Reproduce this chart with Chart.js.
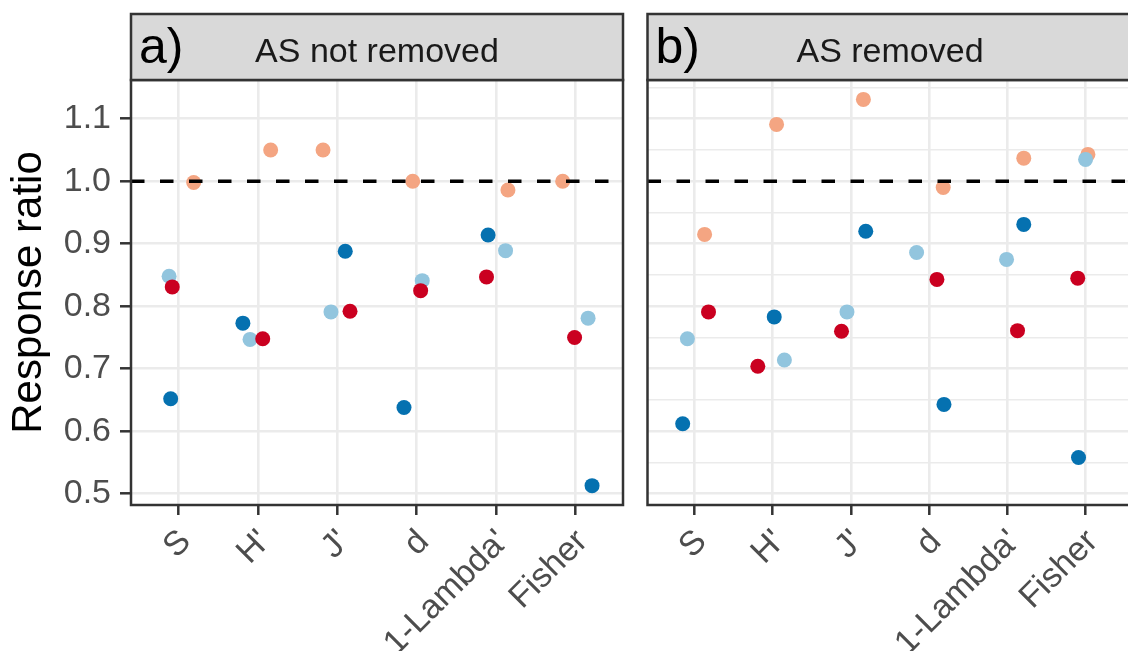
<!DOCTYPE html>
<html>
<head>
<meta charset="utf-8">
<script src="https://cdn.jsdelivr.net/npm/chart.js@4"></script>
<style>
  body { margin: 0; width: 1128px; height: 651px; overflow: hidden; background: #fff; position: relative; }
  .panel { position: absolute; top: 0; height: 651px; }
  #panelA { left: 0; width: 640px; }
  #panelB { left: 640px; width: 500px; }
</style>
</head>
<body>
<div class="panel" id="panelA"><canvas id="chartA"></canvas></div>
<div class="panel" id="panelB"><canvas id="chartB"></canvas></div>
<script>
// categories on the x axis
const categories = ['S', "H'", "J'", 'd', "1-Lambda'", 'Fisher'];
// y gridlines (major every 0.1, minor in between)
const yGridValues = [0.5, 0.55, 0.6, 0.65, 0.7, 0.75, 0.8, 0.85, 0.9, 0.95, 1.0, 1.05, 1.1, 1.15];
const refValue = 1.0;

// a) AS not removed  (values + horizontal jitter read from the figure)
const aRed = [0.831, 0.748, 0.792, 0.825, 0.847, 0.750];
const aRedJitter = [-0.08, 0.06, 0.16, 0.05, -0.12, -0.01];
const aSalmon = [0.998, 1.050, 1.050, 1.000, 0.986, 1.000];
const aSalmonJitter = [0.19, 0.16, -0.18, -0.05, 0.15, -0.16];
const aLightBlue = [0.848, 0.747, 0.791, 0.841, 0.889, 0.781];
const aLightBlueJitter = [-0.12, -0.10, -0.08, 0.07, 0.12, 0.16];
const aDarkBlue = [0.652, 0.773, 0.888, 0.638, 0.914, 0.513];
const aDarkBlueJitter = [-0.10, -0.19, 0.10, -0.16, -0.10, 0.21];

// b) AS removed
const bRed = [0.791, 0.704, 0.760, 0.843, 0.761, 0.845];
const bRedJitter = [0.18, -0.19, -0.12, 0.10, 0.13, -0.10];
const bSalmon = [0.915, 1.091, 1.131, 0.990, 1.037, 1.043];
const bSalmonJitter = [0.13, 0.05, 0.16, 0.18, 0.21, 0.03];
const bLightBlue = [0.748, 0.714, 0.791, 0.886, 0.875, 1.035];
const bLightBlueJitter = [-0.09, 0.15, -0.05, -0.16, -0.01, 0.0];
const bDarkBlue = [0.612, 0.783, 0.920, 0.643, 0.931, 0.558];
const bDarkBlueJitter = [-0.15, 0.02, 0.19, 0.19, 0.21, -0.09];

const colors = { red: '#ca0020', salmon: '#f4a582', lightBlue: '#92c5de', darkBlue: '#0571b0' };

Chart.defaults.font.family = "'Liberation Sans', Arial, sans-serif";

function toPoints(values, jitter) {
    return values.map((v, i) => ({ x: i + 1 + jitter[i], y: v }));
}

function isMajor(v) {
    return Math.abs(v * 10 - Math.round(v * 10)) < 1e-6;
}

// first dataset is drawn on top
function makeDatasets(red, redJ, salmon, salmonJ, lightBlue, lightBlueJ, darkBlue, darkBlueJ) {
    const base = { pointRadius: 7.5, pointHoverRadius: 7.5, borderWidth: 0 };
    return [
        { label: 'darkBlue', data: toPoints(darkBlue, darkBlueJ), backgroundColor: colors.darkBlue, ...base },
        { label: 'red', data: toPoints(red, redJ), backgroundColor: colors.red, ...base },
        { label: 'lightBlue', data: toPoints(lightBlue, lightBlueJ), backgroundColor: colors.lightBlue, ...base },
        { label: 'salmon', data: toPoints(salmon, salmonJ), backgroundColor: colors.salmon, ...base }
    ];
}

// dashed line at 1.0, panel border and the grey strip on top
const facetPlugin = {
    id: 'facet',
    afterDatasetsDraw(chart) {
        const { ctx, chartArea: a, scales: { y } } = chart;
        const py = y.getPixelForValue(refValue);
        ctx.save();
        ctx.beginPath();
        ctx.rect(a.left, a.top, a.right - a.left, a.bottom - a.top);
        ctx.clip();
        ctx.setLineDash([13.5, 15.5]);
        ctx.lineWidth = 3.5;
        ctx.strokeStyle = '#000';
        ctx.beginPath();
        ctx.moveTo(a.left, py);
        ctx.lineTo(a.right, py);
        ctx.stroke();
        ctx.restore();
    },
    afterDraw(chart, args, opts) {
        const { ctx, chartArea: a } = chart;
        ctx.save();
        ctx.lineWidth = 2.5;
        ctx.strokeStyle = '#333333';
        ctx.strokeRect(a.left, a.top, a.right - a.left, a.bottom - a.top);
        // strip
        const top = 14;
        ctx.fillStyle = '#d9d9d9';
        ctx.fillRect(a.left, top, a.right - a.left, a.top - top);
        ctx.strokeRect(a.left, top, a.right - a.left, a.top - top);
        ctx.fillStyle = '#1a1a1a';
        ctx.textBaseline = 'alphabetic';
        ctx.textAlign = 'center';
        ctx.font = "34px 'Liberation Sans', Arial, sans-serif";
        ctx.fillText(opts.title, (a.left + a.right) / 2, 62);
        ctx.fillStyle = '#000';
        ctx.textAlign = 'left';
        ctx.font = "50px 'Liberation Sans', Arial, sans-serif";
        ctx.fillText(opts.label, a.left + 8, 63);
        ctx.restore();
    }
};

function makeOptions(panel, showY) {
    return {
        responsive: true,
        maintainAspectRatio: false,
        animation: false,
        layout: { padding: showY ? { top: 80, right: 17, left: 0, bottom: 0 } : { top: 80, right: 3, left: 0, bottom: 0 } },
        plugins: {
            legend: { display: false },
            tooltip: { enabled: false },
            facet: panel
        },
        scales: {
            x: {
                type: 'linear',
                min: 0.4,
                max: 6.6,
                afterBuildTicks: (s) => { s.ticks = categories.map((c, i) => ({ value: i + 1 })); },
                afterFit: (s) => { s.height = 146; },
                border: { display: false },
                grid: { color: '#ebebeb', lineWidth: 2.6, drawTicks: true, tickLength: 10, tickColor: '#333333', tickWidth: 2.5 },
                ticks: {
                    autoSkip: false,
                    minRotation: 45,
                    maxRotation: 45,
                    padding: 7,
                    labelOffset: 7,
                    color: '#4d4d4d',
                    font: { size: 34 },
                    callback: (v) => categories[Math.round(v) - 1]
                }
            },
            y: {
                type: 'linear',
                min: 0.482,
                max: 1.162,
                afterBuildTicks: (s) => { s.ticks = yGridValues.map(v => ({ value: v })); },
                afterFit: (s) => { s.width = showY ? 131 : 5; },
                border: { display: false },
                grid: {
                    color: '#ebebeb',
                    lineWidth: (c) => isMajor(c.tick.value) ? 2.6 : 1.4,
                    drawTicks: showY,
                    tickLength: 11,
                    tickWidth: 2.5,
                    tickColor: (c) => isMajor(c.tick.value) ? '#333333' : 'rgba(0,0,0,0)'
                },
                ticks: {
                    display: showY,
                    padding: 9,
                    color: '#4d4d4d',
                    font: { size: 34 },
                    callback: (v) => isMajor(v) ? v.toFixed(1) : ''
                },
                title: {
                    display: showY,
                    text: 'Response ratio',
                    color: '#000',
                    font: { size: 42 }
                }
            }
        }
    };
}

new Chart(document.getElementById('chartA').getContext('2d'), {
    type: 'scatter',
    data: { datasets: makeDatasets(aRed, aRedJitter, aSalmon, aSalmonJitter, aLightBlue, aLightBlueJitter, aDarkBlue, aDarkBlueJitter) },
    options: makeOptions({ label: 'a)', title: 'AS not removed' }, true),
    plugins: [facetPlugin]
});

new Chart(document.getElementById('chartB').getContext('2d'), {
    type: 'scatter',
    data: { datasets: makeDatasets(bRed, bRedJitter, bSalmon, bSalmonJitter, bLightBlue, bLightBlueJitter, bDarkBlue, bDarkBlueJitter) },
    options: makeOptions({ label: 'b)', title: 'AS removed' }, false),
    plugins: [facetPlugin]
});
</script>
</body>
</html>
